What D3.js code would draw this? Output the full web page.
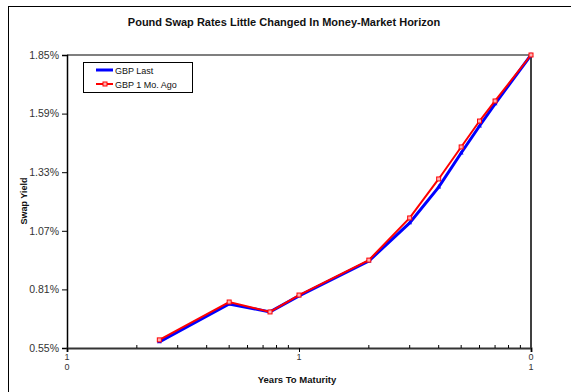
<!DOCTYPE html>
<html>
<head>
<meta charset="utf-8">
<script src="https://cdn.jsdelivr.net/npm/d3@7"></script>
<style>
  body { margin: 0; background: #fff; }
  svg { display: block; font-family: "Liberation Sans", Arial, sans-serif; }
</style>
</head>
<body>
<div id="chart"></div>
<script>
// years to maturity
var maturities = [0.25, 0.5, 0.75, 1, 2, 3, 4, 5, 6, 7, 10];
// swap rates, percent
var gbpLast   = [0.577, 0.745, 0.710, 0.781, 0.936, 1.105, 1.264, 1.415, 1.535, 1.633, 1.85];
var gbpMonth  = [0.586, 0.754, 0.710, 0.785, 0.940, 1.127, 1.300, 1.442, 1.557, 1.646, 1.85];
var yTicks = [0.55, 0.81, 1.07, 1.33, 1.59, 1.85];
var seriesNames = ["GBP Last", "GBP 1 Mo. Ago"];

var W = 571, H = 392;
var margin = {top: 55, right: 40, bottom: 44, left: 67};

var svg = d3.select("#chart").append("svg")
    .attr("width", W)
    .attr("height", H);

// outer frame (runs off the right / bottom edge like the source)
svg.append("rect")
    .attr("x", 8.5).attr("y", 6.5)
    .attr("width", 600).attr("height", 420)
    .attr("fill", "none").attr("stroke", "#000").attr("stroke-width", 1);

var x = d3.scaleLog().domain([0.1, 10]).range([margin.left, 531]);
var y = d3.scaleLinear().domain([0.55, 1.85]).range([348, margin.top]);

// plot border
svg.append("line")
    .attr("x1", x(0.1)).attr("x2", x(10))
    .attr("y1", y(1.85)).attr("y2", y(1.85))
    .attr("stroke", "#555").attr("stroke-width", 1.5);
svg.append("line")
    .attr("x1", x(10)).attr("x2", x(10))
    .attr("y1", y(1.85)).attr("y2", y(0.55))
    .attr("stroke", "#000").attr("stroke-width", 1.5);

// y axis
var yAxis = svg.append("g")
    .attr("transform", "translate(" + x(0.1) + ",0)")
    .call(d3.axisLeft(y).tickValues(yTicks).tickSize(5).tickPadding(3)
      .tickFormat(function(d) { return d.toFixed(2) + "%"; }));
yAxis.select(".domain").attr("stroke", "#000").attr("stroke-width", 1.5);
yAxis.selectAll("text").attr("font-size", 10.5).attr("fill", "#333")
    .attr("font-family", "Liberation Sans, Arial, sans-serif");

// x axis: major ticks
var xAxis = svg.append("g")
    .attr("transform", "translate(0," + y(0.55) + ")")
    .call(d3.axisBottom(x).tickValues([0.1, 1, 10]).tickSize(4).tickFormat(""));
xAxis.select(".domain").attr("stroke", "#333").attr("stroke-width", 2);

// x axis: minor ticks pointing inward
var minor = [];
[0.1, 1].forEach(function(b) {
  for (var k = 2; k <= 9; k++) minor.push(b * k);
});
svg.append("g").selectAll("line")
  .data(minor)
  .enter().append("line")
    .attr("x1", function(d) { return x(d); })
    .attr("x2", function(d) { return x(d); })
    .attr("y1", y(0.55)).attr("y2", y(0.55) - 3)
    .attr("stroke", "#000");

// stacked tick labels, as in the source
var xLabels = [
  {v: 0.1, lines: ["1", "0"]},
  {v: 1,   lines: ["1"]},
  {v: 10,  lines: ["0", "1"]}
];
xLabels.forEach(function(l) {
  l.lines.forEach(function(s, i) {
    svg.append("text")
      .attr("x", x(l.v)).attr("y", 360 + i * 10)
      .attr("text-anchor", "middle")
      .attr("font-size", 9).attr("fill", "#333")
      .text(s);
  });
});

// titles
svg.append("text")
    .attr("x", 284).attr("y", 26)
    .attr("text-anchor", "middle")
    .attr("font-size", 11).attr("font-weight", "bold").attr("fill", "#111")
    .text("Pound Swap Rates Little Changed In Money-Market Horizon");

svg.append("text")
    .attr("x", 297).attr("y", 383)
    .attr("text-anchor", "middle")
    .attr("font-size", 9.5).attr("font-weight", "bold").attr("fill", "#111")
    .text("Years To Maturity");

svg.append("text")
    .attr("transform", "translate(27,201) rotate(-90)")
    .attr("text-anchor", "middle")
    .attr("font-size", 9).attr("font-weight", "bold").attr("fill", "#111")
    .text("Swap Yield");

// lines
var line = d3.line()
    .x(function(d) { return x(d[0]); })
    .y(function(d) { return y(d[1]); });

var blueData = d3.zip(maturities, gbpLast);
var redData = d3.zip(maturities, gbpMonth);

svg.append("path")
    .datum(blueData)
    .attr("d", line)
    .attr("fill", "none").attr("stroke", "#0000ff").attr("stroke-width", 3);
svg.append("g").selectAll("path")
  .data(blueData)
  .enter().append("path")
    .attr("d", d3.symbol().type(d3.symbolTriangle).size(10))
    .attr("transform", function(d) { return "translate(" + x(d[0]) + "," + y(d[1]) + ")"; })
    .attr("fill", "#0000ff");

svg.append("path")
    .datum(redData)
    .attr("d", line)
    .attr("fill", "none").attr("stroke", "#ff0000").attr("stroke-width", 2);
svg.append("g").selectAll("rect")
  .data(redData)
  .enter().append("rect")
    .attr("x", function(d) { return x(d[0]) - 2; })
    .attr("y", function(d) { return y(d[1]) - 2; })
    .attr("width", 4).attr("height", 4)
    .attr("fill", "#ffb0b0").attr("stroke", "#ff0000").attr("stroke-width", 1);

// legend
var lg = svg.append("g").attr("transform", "translate(83,62)");
lg.append("rect")
    .attr("x", 0.5).attr("y", 0.5).attr("width", 109).attr("height", 30)
    .attr("fill", "#fff").attr("stroke", "#000");
var colors = ["#0000ff", "#ff0000"];
seriesNames.forEach(function(n, i) {
  var yy = 8 + i * 14;
  lg.append("line")
    .attr("x1", 13).attr("x2", 30).attr("y1", yy).attr("y2", yy)
    .attr("stroke", colors[i]).attr("stroke-width", i ? 2 : 3);
  if (i) {
    lg.append("rect").attr("x", 20).attr("y", yy - 2).attr("width", 4).attr("height", 4)
      .attr("fill", "#ffb0b0").attr("stroke", "#ff0000");
  }
  lg.append("text")
    .attr("x", 32).attr("y", yy + 3.5)
    .attr("font-size", 9).attr("fill", "#111")
    .text(n);
});
</script>
</body>
</html>
